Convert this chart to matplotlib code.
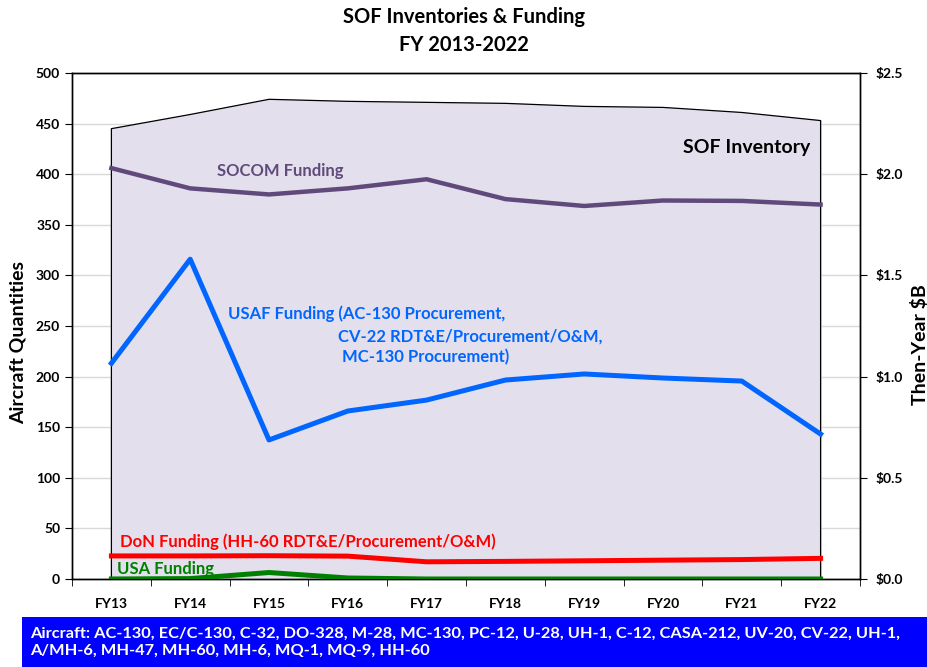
import matplotlib.pyplot as plt
import numpy as np
from matplotlib.patches import Rectangle

plt.rcParams['font.family'] = ['Lato', 'DejaVu Sans']

years = ["FY13", "FY14", "FY15", "FY16", "FY17", "FY18", "FY19", "FY20", "FY21", "FY22"]

# aircraft inventory (left axis)
inventory = [445, 459, 474, 472, 471, 470, 467, 466, 461, 453]

# funding, then-year $B (right axis)
socom = [2.03, 1.93, 1.90, 1.93, 1.975, 1.877, 1.843, 1.87, 1.868, 1.85]
usaf = [1.066, 1.58, 0.687, 0.83, 0.884, 0.983, 1.013, 0.993, 0.978, 0.716]
don = [0.114, 0.114, 0.115, 0.113, 0.085, 0.087, 0.090, 0.093, 0.096, 0.102]
usa = [0.0, 0.002, 0.032, 0.005, 0.0, 0.0, 0.0, 0.0, 0.0, 0.0]

aircraft_text = ("Aircraft: AC-130, EC/C-130, C-32, DO-328, M-28, MC-130, PC-12, U-28, UH-1, C-12, "
                 "CASA-212, UV-20, CV-22, UH-1,\nA/MH-6, MH-47, MH-60, MH-6, MQ-1, MQ-9, HH-60")

x = np.arange(len(years))

fig = plt.figure(figsize=(9.28, 6.67), dpi=100)
ax = fig.add_axes([72 / 928, 1 - 579 / 667, 788 / 928, 506 / 667])
ax2 = ax.twinx()

# inventory area
ax.fill_between(x, 0, inventory, color="#E4DFEC", zorder=2)
ax.plot(np.r_[x[0], x, x[-1]], np.r_[0, inventory, 0], color="black", lw=0.9, zorder=3)

ax.set_xlim(-0.5, len(years) - 0.5)
ax.set_ylim(0, 500)
ax.set_yticks(np.arange(0, 501, 50))
ax.yaxis.grid(True, color="#D9D9D9", lw=1)
ax.set_axisbelow(True)
ax.set_xticks(x)
ax.set_xticklabels(years, fontweight="bold", fontsize=10)
ax.set_xticks(np.arange(-0.5, len(years), 1), minor=True)
ax.tick_params(axis="x", which="major", length=0, pad=14)
ax.tick_params(axis="x", which="minor", length=5, direction="out")
ax.tick_params(axis="y", length=5, labelsize=10)
for lab in ax.get_yticklabels():
    lab.set_fontweight("bold")

ax2.set_ylim(0, 2.5)
ax2.set_yticks(np.arange(0, 2.51, 0.5))
ax2.set_yticklabels([f"${v:.1f}" for v in np.arange(0, 2.51, 0.5)], fontweight="bold", fontsize=10)
ax2.tick_params(axis="y", length=5, pad=6)

ax2.plot(x, socom, color="#604A7B", lw=3.2, zorder=4)
ax2.plot(x, usaf, color="#0066FF", lw=3.6, zorder=4)
ax2.plot(x, don, color="#FF0000", lw=3.6, zorder=4)
ax2.plot(x, usa, color="#008000", lw=3.6, zorder=4)

for sp in list(ax.spines.values()) + list(ax2.spines.values()):
    sp.set_color("black")
    sp.set_linewidth(1)

# axis titles
fig.text(18 / 928, 1 - 343 / 667, "Aircraft Quantities", rotation=90, ha="center", va="center",
         fontsize=14, fontweight="bold")
fig.text(920 / 928, 1 - 345 / 667, "Then-Year $B", rotation=90, ha="center", va="center",
         fontsize=14, fontweight="bold")

# series labels
ax.text(1.34, 403, "SOCOM Funding", color="#604A7B", fontsize=12, fontweight="bold", va="center")
ax.text(7.25, 426, "SOF Inventory", color="black", fontsize=14, fontweight="bold", va="center")
ax.text(1.48, 262, "USAF Funding (AC-130 Procurement,", color="#0066FF", fontsize=12, fontweight="bold", va="center")
ax.text(2.88, 240, "CV-22 RDT&E/Procurement/O&M,", color="#0066FF", fontsize=12, fontweight="bold", va="center")
ax.text(2.93, 219, "MC-130 Procurement)", color="#0066FF", fontsize=12, fontweight="bold", va="center")
ax.text(0.11, 37, "DoN Funding (HH-60 RDT&E/Procurement/O&M)", color="#FF0000", fontsize=12, fontweight="bold", va="center")
ax.text(0.07, 10, "USA Funding", color="#008000", fontsize=12, fontweight="bold", va="center")

fig.text(0.5, 1 - 17 / 667, "SOF Inventories & Funding", ha="center", va="center", fontsize=14.5, fontweight="bold")
fig.text(0.5, 1 - 45 / 667, "FY 2013-2022", ha="center", va="center", fontsize=14.5, fontweight="bold")

# aircraft banner
fig.patches.append(Rectangle((22 / 928, 0), 1 - 22 / 928, 50 / 667, transform=fig.transFigure,
                             facecolor="#0000FF", edgecolor="none"))
fig.text(30 / 928, 25 / 667, aircraft_text, color="white", fontsize=11.8, fontweight="bold",
         va="center", ha="left", linespacing=1.25)

fig.savefig("out.png", dpi=100)
